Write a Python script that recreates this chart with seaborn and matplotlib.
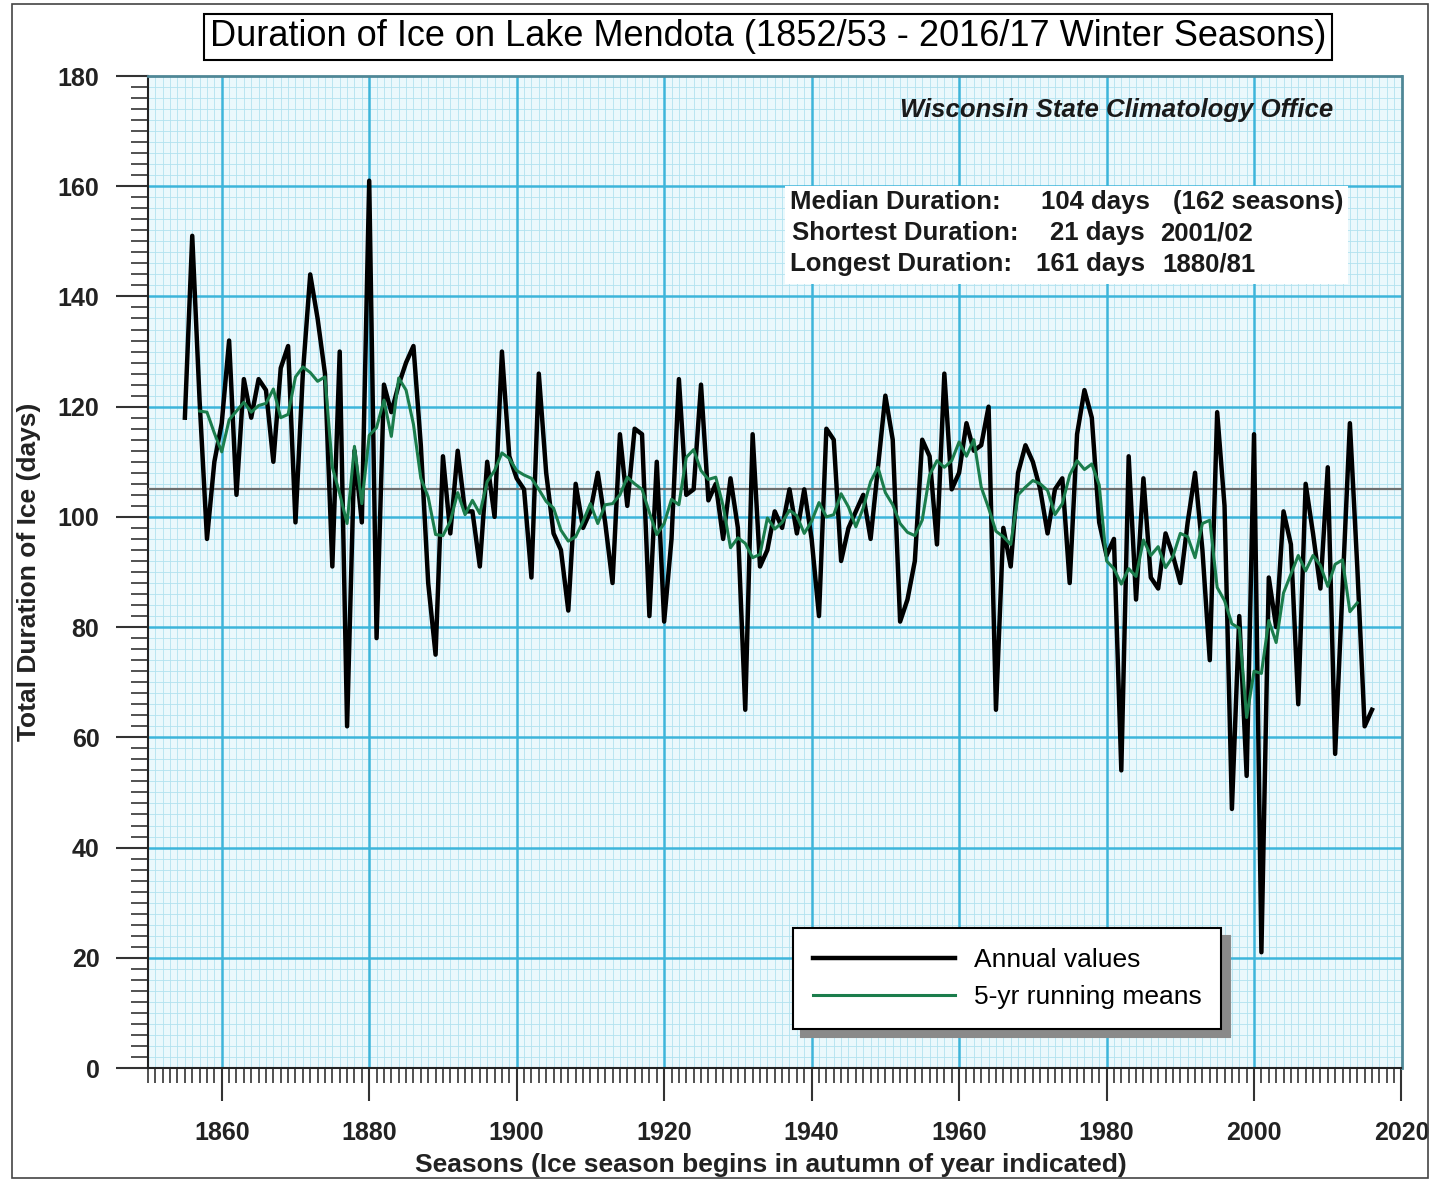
import pandas as pd
import seaborn as sns
import matplotlib.pyplot as plt
from matplotlib.ticker import MultipleLocator
from matplotlib.patches import Rectangle

plt.rcParams['font.family'] = ['Liberation Sans', 'DejaVu Sans']

# Ice season (starting year) and total days of ice cover
seasons = list(range(1855, 2017))
ice_days = [
    118, 151, 121, 96, 110, 117, 132, 104, 125, 118,   # 1855-1864
    125, 123, 110, 127, 131, 99, 126, 144, 136, 126,   # 1865-1874
    91, 130, 62, 112, 99, 161, 78, 124, 119, 124,      # 1875-1884
    128, 131, 113, 88, 75, 111, 97, 112, 101, 101,     # 1885-1894
    91, 110, 100, 130, 111, 107, 105, 89, 126, 108,    # 1895-1904
    97, 94, 83, 106, 98, 101, 108, 99, 88, 115,        # 1905-1914
    102, 116, 115, 82, 110, 81, 96, 125, 104, 105,     # 1915-1924
    124, 103, 106, 96, 107, 98, 65, 115, 91, 94,       # 1925-1934
    101, 98, 105, 97, 105, 96, 82, 116, 114, 92,       # 1935-1944
    98, 101, 104, 96, 109, 122, 114, 81, 85, 92,       # 1945-1954
    114, 111, 95, 126, 105, 108, 117, 112, 113, 120,   # 1955-1964
    65, 98, 91, 108, 113, 110, 105, 97, 105, 107,      # 1965-1974
    88, 115, 123, 118, 99, 93, 96, 54, 111, 85,        # 1975-1984
    107, 89, 87, 97, 93, 88, 99, 108, 94, 74,          # 1985-1994
    119, 102, 47, 82, 53, 115, 21, 89, 80, 101,        # 1995-2004
    95, 66, 106, 97, 87, 109, 57, 87, 117, 91,         # 2005-2014
    62, 65,                                            # 2015-2016
]
median_line = 105

title = 'Duration of Ice on Lake Mendota (1852/53 - 2016/17 Winter Seasons)'
stats_rows = [
    ('Median Duration:', '104 days', '(162 seasons)'),
    ('Shortest Duration:', '21 days', '2001/02'),
    ('Longest Duration:', '161 days', '1880/81'),
]

df = pd.DataFrame({'season': seasons, 'days': ice_days})
df['running'] = df['days'].rolling(5, center=True).mean()

W, H = 1431, 1180
fig = plt.figure(figsize=(W / 100, H / 100), dpi=100)


def fx(px):
    return px / W


def fy(py):
    return 1 - py / H


ax = fig.add_axes([fx(148), fy(1068), (1401.5 - 148) / W, (1068 - 76) / H])
ax.set_facecolor('#eaf8fc')

sns.lineplot(data=df, x='season', y='days', ax=ax, color='black', lw=3.2,
             label='Annual values', zorder=4)
sns.lineplot(data=df, x='season', y='running', ax=ax, color='#1b7d4c', lw=2.2,
             label='5-yr running means', zorder=5)
ax.axhline(median_line, color='#6e6e6e', lw=1.6, zorder=3)

ax.set_xlim(1850, 2020)
ax.set_ylim(0, 180)
ax.xaxis.set_major_locator(MultipleLocator(20))
ax.xaxis.set_minor_locator(MultipleLocator(1))
ax.yaxis.set_major_locator(MultipleLocator(20))
ax.yaxis.set_minor_locator(MultipleLocator(2))

# fine grid from the tick locators, heavier grid lines on top of it
ax.set_axisbelow(True)
ax.grid(which='minor', color='#b1e2ef', lw=0.6)
ax.grid(which='major', visible=False)
for x in range(1860, 2020, 20):
    ax.axvline(x, color='#3db5da', lw=1.8, zorder=1)
for y in range(20, 180, 20):
    ax.axhline(y, color='#3db5da', lw=1.8, zorder=1)

for side in ['left', 'bottom']:
    ax.spines[side].set_color('#222222')
    ax.spines[side].set_linewidth(1.5)
for side in ['top', 'right']:
    ax.spines[side].set_color('#4f8796')
    ax.spines[side].set_linewidth(2)

ax.tick_params(axis='y', which='major', length=23, width=1.5, pad=12,
               labelsize=18, color='#333333', labelcolor='#222222')
ax.tick_params(axis='y', which='minor', length=12, width=1.2, color='#333333')
ax.tick_params(axis='x', which='major', length=24, width=1.5, pad=14,
               labelsize=18, color='#333333', labelcolor='#222222')
ax.tick_params(axis='x', which='minor', length=11, width=1.2, color='#333333')
for lbl in ax.get_xticklabels() + ax.get_yticklabels():
    lbl.set_fontweight('bold')

ax.set_xlabel('Seasons (Ice season begins in autumn of year indicated)',
              fontsize=19, fontweight='bold', color='#222222', va='center')
ax.xaxis.set_label_coords((771 - 148) / 1253.5, (1068 - 1165) / 992)
ax.set_ylabel('Total Duration of Ice (days)', fontsize=19, fontweight='bold',
              color='#222222', va='center')
ax.yaxis.set_label_coords((29 - 148) / 1253.5, 0.5)

leg = ax.legend(loc='upper left', bbox_to_anchor=(fx(793), fy(928)),
                bbox_transform=fig.transFigure, borderaxespad=0,
                fancybox=False, edgecolor='black', framealpha=1,
                shadow={'ox': 6, 'oy': -6, 'color': '#8a8a8a', 'alpha': 1},
                fontsize=19, handlelength=5.4, handletextpad=0.7,
                borderpad=0.75, labelspacing=0.5)
leg.get_frame().set_linewidth(1.5)

# title box
fig.text(fx(768), fy(37), title, ha='center', va='center', fontsize=26,
         color='black',
         bbox=dict(boxstyle='square,pad=0.15', facecolor='white',
                   edgecolor='black', lw=1.5))

fig.text(fx(1333), fy(110), 'Wisconsin State Climatology Office', ha='right',
         va='center', fontsize=18.5, fontweight='bold', fontstyle='italic',
         color='#1a1a1a')

# statistics box
fig.add_artist(Rectangle((fx(785), fy(284)), (1348 - 785) / W, (284 - 186) / H,
                         transform=fig.transFigure, facecolor='white',
                         edgecolor='none', zorder=2))
row_y = [202, 233, 264]
col_x = [(790, 1041, 1173), (792, 1050, 1160), (790, 1036, 1162)]
for (label, val, extra), y, xs in zip(stats_rows, row_y, col_x):
    for txt, x in zip((label, val, extra), xs):
        fig.text(fx(x), fy(y), txt, ha='left', va='center', fontsize=18.5,
                 fontweight='bold', color='#1a1a1a', zorder=3)

# outer frame
fig.add_artist(Rectangle((fx(12), fy(1178)), (1428 - 12) / W, (1178 - 4) / H,
                         transform=fig.transFigure, fill=False,
                         edgecolor='#444444', lw=1.2))

fig.savefig('out.png', dpi=100)
